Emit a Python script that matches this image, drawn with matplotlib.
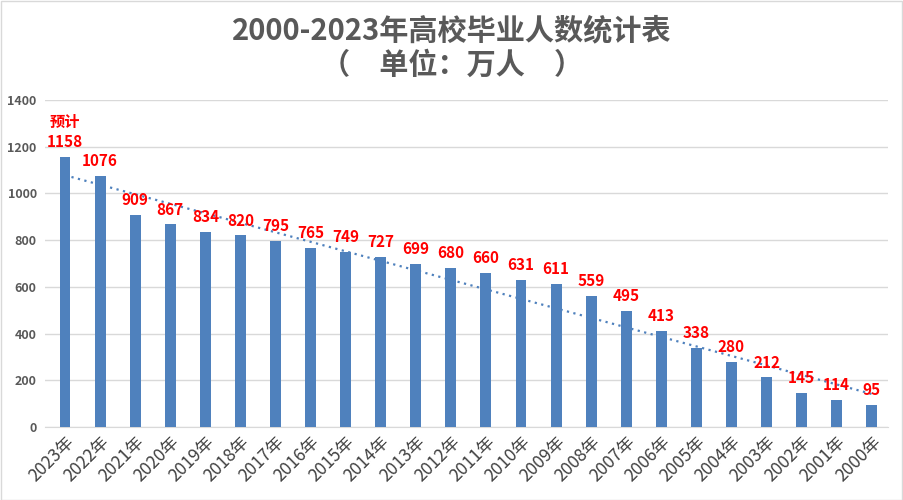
import matplotlib
matplotlib.use('Agg')
import matplotlib.pyplot as plt
import numpy as np
from matplotlib.patches import Rectangle

plt.rcParams['font.family'] = ['Noto Sans CJK SC', 'DejaVu Sans']

# data (2023 is a forecast)
years = [f'{y}年' for y in range(2023, 1999, -1)]
graduates = [1158, 1076, 909, 867, 834, 820, 795, 765, 749, 727, 699, 680,
             660, 631, 611, 559, 495, 413, 338, 280, 212, 145, 114, 95]
y_ticks = [0, 200, 400, 600, 800, 1000, 1200, 1400]

bar_color = '#4F81BD'
text_gray = '#595959'

fig = plt.figure(figsize=(9.04, 5.0), dpi=100)
ax = fig.add_axes([0.0498, 0.146, 0.932, 0.654])

x = np.arange(len(years))
ax.bar(x, graduates, width=0.31, color=bar_color, zorder=3)

# linear trendline behind the bars
slope, intercept = np.polyfit(x, graduates, 1)
ax.plot(x, slope * x + intercept, linestyle=(0, (1, 2)), color=bar_color,
        linewidth=1.6, zorder=2)

for i, v in enumerate(graduates):
    ax.annotate(str(v), (i, v), xytext=(0, 5), textcoords='offset points',
                ha='center', va='bottom', color='#FF0000',
                fontsize=11, fontweight='bold', zorder=5)
ax.annotate('预计', (0, graduates[0]), xytext=(0, 19), textcoords='offset points',
            ha='center', va='bottom', color='#FF0000',
            fontsize=11, fontweight='bold', zorder=5)

ax.set_xlim(-0.57, 23.45)
ax.set_ylim(0, 1400)
ax.set_yticks(y_ticks)
ax.set_yticklabels([str(t) for t in y_ticks], fontsize=9, fontweight='bold',
                   color=text_gray)
ax.set_xticks(x)
ax.set_xticklabels(years, rotation=45, ha='right', rotation_mode='anchor',
                   fontsize=12.5, color='#404040')
ax.tick_params(axis='both', length=0)
ax.tick_params(axis='x', pad=4)
ax.tick_params(axis='y', pad=6)

ax.grid(axis='y', color='#D9D9D9', linewidth=1, zorder=0)
ax.set_axisbelow(True)
for side in ['top', 'right', 'left']:
    ax.spines[side].set_visible(False)
ax.spines['bottom'].set_color('#D9D9D9')

fig.text(0.5, 0.94, '2000-2023年高校毕业人数统计表', ha='center', va='center',
         fontsize=21, fontweight='bold', color=text_gray)
fig.text(0.5, 0.87, '（\u3000单位：万人\u3000）', ha='center', va='center',
         fontsize=21, fontweight='bold', color=text_gray)

fig.patches.append(Rectangle((0.001, 0.001), 0.997, 0.997, transform=fig.transFigure,
                             fill=False, edgecolor='#D9D9D9', linewidth=1))

fig.savefig('out.png', dpi=100)
